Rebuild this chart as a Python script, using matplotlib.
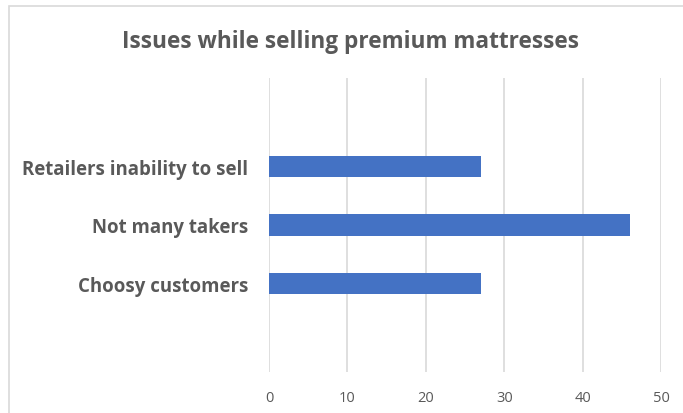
import matplotlib
matplotlib.use("Agg")
import matplotlib.pyplot as plt
from matplotlib.patches import Rectangle

title = "Issues while selling premium mattresses"
categories = ["Choosy customers", "Not many takers", "Retailers inability to sell"]
values = [27, 46, 27]
x_ticks = [0, 10, 20, 30, 40, 50]

text_color = "#595959"
grid_color = "#d9d9d9"
bar_color = "#4472C4"
font = "Open Sans"

fig = plt.figure(figsize=(6.83, 4.14), dpi=100)
fig.patch.set_facecolor("white")

# chart frame
fig.patches.append(Rectangle((9 / 683, -0.1), 1.2, 1 - 7 / 414 + 0.1,
                             transform=fig.transFigure, fill=False,
                             edgecolor="#d9d9d9", linewidth=1.2))

ax = fig.add_axes([269 / 683, 1 - 373 / 414, (661 - 269) / 683, (373 - 79) / 414])
ypos = list(range(len(categories)))
ax.barh(ypos, values, height=0.36, color=bar_color, zorder=3)

ax.set_xlim(0, 50)
ax.set_ylim(-1.5, len(categories) + 0.5)
ax.set_xticks(x_ticks)
ax.set_xticklabels([str(t) for t in x_ticks])
ax.set_yticks(ypos)
ax.set_yticklabels(categories)

ax.grid(axis="x", color=grid_color, linewidth=1.2, zorder=0)
for s in ax.spines.values():
    s.set_visible(False)
ax.tick_params(axis="both", length=0)
ax.tick_params(axis="x", pad=13, labelsize=10.5, labelcolor=text_color)
ax.tick_params(axis="y", pad=15, labelsize=13.4, labelcolor=text_color)
for lbl in ax.get_xticklabels():
    lbl.set_fontfamily(font)
for lbl in ax.get_yticklabels():
    lbl.set_fontfamily(font)
    lbl.set_fontweight("bold")

fig.text(350 / 683, 1 - 42 / 414, title, ha="center", va="center",
         fontsize=16.3, fontweight="bold", color=text_color, family=font)

fig.savefig("out.png", dpi=100, facecolor="white")
